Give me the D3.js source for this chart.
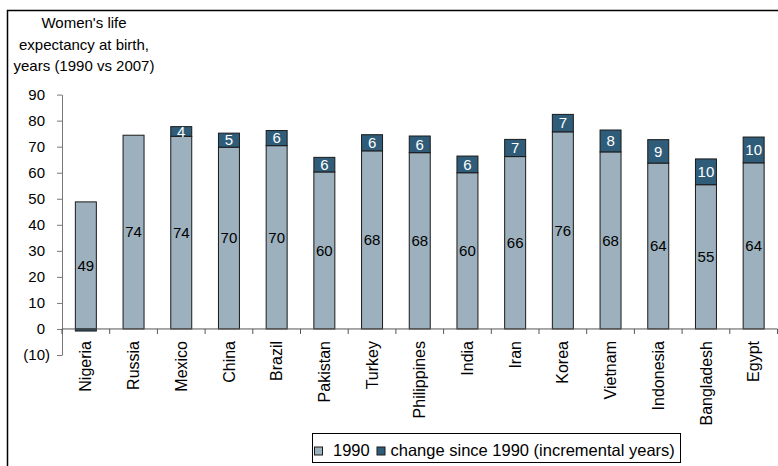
<!DOCTYPE html>
<html>
<head>
<meta charset="utf-8">
<script src="https://cdn.jsdelivr.net/npm/d3@7"></script>
<style>
  html, body { margin: 0; padding: 0; background: #fff; }
  svg { display: block; font-family: "Liberation Sans", Arial, sans-serif; }
</style>
</head>
<body>
<script>
const categories = ["Nigeria","Russia","Mexico","China","Brazil","Pakistan","Turkey","Philippines","India","Iran","Korea","Vietnam","Indonesia","Bangladesh","Egypt"];
const base1990 = [48.8, 74.4, 74.0, 69.8, 70.4, 60.3, 68.4, 67.7, 60.0, 66.2, 75.7, 68.0, 63.7, 55.4, 63.8];
const change = [-0.8, 0, 3.7, 5.4, 5.8, 5.6, 6.2, 6.4, 6.4, 6.6, 6.7, 8.4, 9.0, 9.9, 9.9];
const yTicks = [-10, 0, 10, 20, 30, 40, 50, 60, 70, 80, 90];
const titleLines = ["Women's life", "expectancy at birth,", "years (1990 vs 2007)"];
const legendLabels = ["1990", "change since 1990 (incremental years)"];

const W = 778, H = 466;
const colLight = "#9cb0bd", colDark = "#2f5c78";

const svg = d3.select("body").append("svg").attr("width", W).attr("height", H);

// outer frame (only left and top edges visible)
svg.append("rect").attr("x", 7.5).attr("y", 10.5).attr("width", 800).attr("height", 500)
  .attr("fill", "none").attr("stroke", "#000").attr("stroke-width", 1.5);

// title
svg.append("g").selectAll("text").data(titleLines).join("text")
  .attr("x", 84).attr("y", (d, i) => 28 + i * 21.5)
  .attr("text-anchor", "middle").attr("font-size", 15).attr("fill", "#000")
  .text(d => d);

const x = d3.scaleBand().domain(categories).range([62, 777.5]).paddingInner(0.56).paddingOuter(0.28);
const y = d3.scaleLinear().domain([-10, 90]).range([355, 94.6]);

const fmt = v => v < 0 ? "(" + Math.abs(v) + ")" : String(v);

// y axis
const yAxis = svg.append("g").attr("transform", "translate(62,0)")
  .call(d3.axisLeft(y).tickValues(yTicks).tickSize(5).tickSizeOuter(0).tickPadding(12).tickFormat(fmt));
yAxis.select(".domain").attr("stroke", "#777");
yAxis.selectAll(".tick line").attr("stroke", "#777");
yAxis.selectAll(".tick text").attr("font-size", 15).attr("fill", "#000")
  .attr("font-family", "Liberation Sans, Arial, sans-serif")
  .attr("dx", d => d < 0 ? 5 : 0);

const data = categories.map((c, i) => ({ c, b: base1990[i], ch: change[i] }));

// bars
const g = svg.append("g");
g.selectAll("rect.base").data(data).join("rect").attr("class", "base")
  .attr("x", d => x(d.c)).attr("width", x.bandwidth())
  .attr("y", d => y(d.b)).attr("height", d => y(0) - y(d.b))
  .attr("fill", colLight).attr("stroke", "#1a1a1a").attr("stroke-width", 1);

g.selectAll("rect.chg").data(data.filter(d => d.ch !== 0)).join("rect").attr("class", "chg")
  .attr("x", d => x(d.c)).attr("width", x.bandwidth())
  .attr("y", d => d.ch > 0 ? y(d.b + d.ch) : y(0))
  .attr("height", d => Math.abs(y(0) - y(Math.abs(d.ch))))
  .attr("fill", colDark).attr("stroke", "#1a1a1a").attr("stroke-width", 1);

// x axis line and boundary ticks
const xa = svg.append("g");
xa.append("line").attr("x1", 62).attr("x2", 777.5).attr("y1", y(0)).attr("y2", y(0)).attr("stroke", "#555");
const step = x.step();
xa.selectAll("line.tk").data(d3.range(categories.length + 1)).join("line").attr("class", "tk")
  .attr("x1", i => x(categories[0]) - x.paddingOuter() * step + i * step)
  .attr("x2", i => x(categories[0]) - x.paddingOuter() * step + i * step)
  .attr("y1", y(0)).attr("y2", y(0) + 5).attr("stroke", "#555");

xa.selectAll("text").data(categories).join("text")
  .attr("transform", d => `translate(${x(d) + x.bandwidth() / 2},341) rotate(-90)`)
  .attr("text-anchor", "end").attr("dy", "0.35em").attr("font-size", 16).attr("fill", "#000")
  .text(d => d);

// labels
g.selectAll("text.bl").data(data).join("text").attr("class", "bl")
  .attr("x", d => x(d.c) + x.bandwidth() / 2).attr("y", d => y(d.b / 2))
  .attr("dy", "0.35em").attr("text-anchor", "middle").attr("font-size", 15).attr("fill", "#000")
  .text(d => Math.round(d.b));

g.selectAll("text.cl").data(data.filter(d => d.ch >= 1)).join("text").attr("class", "cl")
  .attr("x", d => x(d.c) + x.bandwidth() / 2).attr("y", d => y(d.b + d.ch / 2))
  .attr("dy", "0.35em").attr("text-anchor", "middle").attr("font-size", 15).attr("fill", "#fff")
  .text(d => Math.round(d.ch));

// legend
const lg = svg.append("g");
lg.append("rect").attr("x", 312.5).attr("y", 433.5).attr("width", 368).attr("height", 29)
  .attr("fill", "#fff").attr("stroke", "#000").attr("stroke-width", 1);
const legItems = [{ t: legendLabels[0], c: colLight, sx: 314.5, tx: 333 }, { t: legendLabels[1], c: colDark, sx: 377, tx: 390.5 }];
lg.selectAll("rect.sw").data(legItems).join("rect").attr("class", "sw")
  .attr("x", d => d.sx).attr("y", 447).attr("width", 8).attr("height", 8)
  .attr("fill", d => d.c).attr("stroke", "#1a1a1a").attr("stroke-width", 1);
lg.selectAll("text").data(legItems).join("text")
  .attr("x", d => d.tx).attr("y", 455.5).attr("font-size", 16.5).attr("fill", "#000")
  .text(d => d.t);
</script>
</body>
</html>
